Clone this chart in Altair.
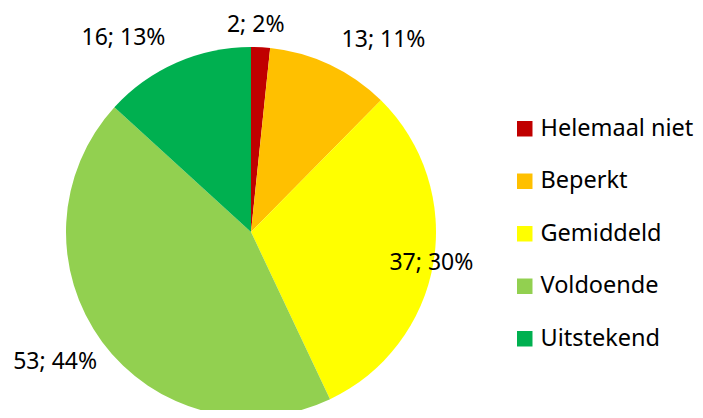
import altair as alt
import pandas as pd

categories = ["Helemaal niet", "Beperkt", "Gemiddeld", "Voldoende", "Uitstekend"]
counts = [2, 13, 37, 53, 16]
percent_labels = ["2%", "11%", "30%", "44%", "13%"]
colors = ["#C00000", "#FFC000", "#FFFF00", "#92D050", "#00B050"]

FONT = "Noto Sans"
CX, CY, R = 243, 224, 185

df = pd.DataFrame({
    "categorie": categories,
    "aantal": counts,
    "pct": percent_labels,
    "volgorde": list(range(len(categories))),
})
df["label"] = df["aantal"].astype(str) + "; " + df["pct"]

pie = alt.Chart(df).mark_arc(outerRadius=R).encode(
    theta=alt.Theta("aantal:Q", stack=True),
    order=alt.Order("volgorde:Q"),
    color=alt.Color(
        "categorie:N",
        sort=categories,
        scale=alt.Scale(domain=categories, range=colors),
        legend=alt.Legend(
            title=None, orient="none", legendX=505, legendY=109,
            symbolType="square", symbolSize=240, symbolStrokeWidth=0,
            labelFontSize=23.5, labelFont=FONT, labelColor="black",
            labelLimit=300, rowPadding=27.5, labelOffset=4, padding=0,
        ),
    ),
    x=alt.value(CX),
    y=alt.value(CY),
)

lbl = (
    alt.Chart(df)
    .transform_window(cum="sum(aantal)", sort=[alt.SortField("volgorde")], frame=[None, 0])
    .transform_joinaggregate(totaal="sum(aantal)")
    .transform_calculate(
        mid="datum.cum - datum.aantal / 2",
        hoek="360 * (datum.cum - datum.aantal / 2) / datum.totaal",
    )
)


def label_layer(expr, align, radius, dx=0, dy=0):
    return lbl.transform_filter(expr).mark_text(
        align=align, baseline="middle", fontSize=23, font=FONT, color="black",
        radius=radius, dx=dx, dy=dy,
    ).encode(
        theta=alt.Theta("mid:Q", stack=None),
        text="label:N",
        x=alt.value(CX),
        y=alt.value(CY),
    )


top = label_layer("datum.hoek < 15", "center", 207, dx=-6)
upper_right = label_layer("datum.hoek >= 15 && datum.hoek <= 80", "left", 212)
right = label_layer("datum.hoek > 80 && datum.hoek < 120", "center", 183)
lower_left = label_layer("datum.hoek >= 180 && datum.hoek < 270", "right", 205, dx=11, dy=8)
upper_left = label_layer("datum.hoek >= 270", "right", 212)

chart = alt.layer(pie, top, upper_right, right, lower_left, upper_left).properties(
    width=687, height=402, padding=0,
    autosize=alt.AutoSizeParams(type="none"),
).configure_view(stroke=None)

chart.save("out.html", embed_options={"renderer": "svg", "actions": False})
